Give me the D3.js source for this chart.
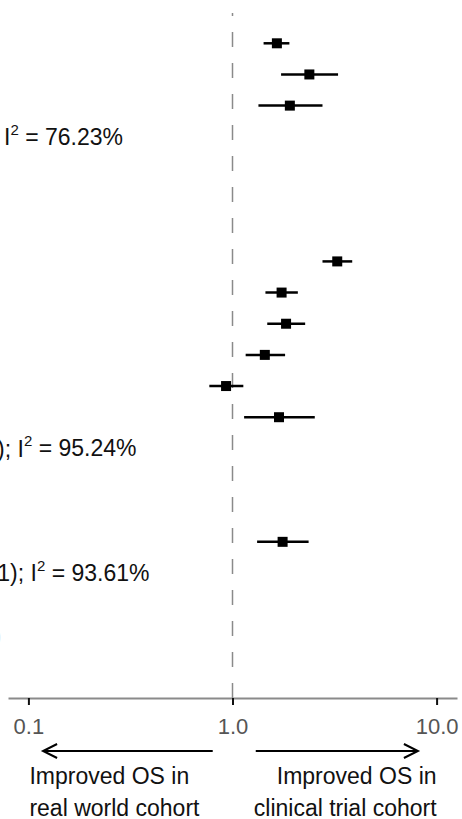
<!DOCTYPE html>
<html>
<head>
<meta charset="utf-8">
<script src="https://cdn.jsdelivr.net/npm/d3@7"></script>
<style>
  body { margin: 0; background: #fff; }
  svg { display: block; font-family: "Liberation Sans", Arial, sans-serif; }
</style>
</head>
<body>
<div id="chart"></div>
<script>
// study rows (row number counted from the top), hazard ratio and 95% CI
const rows  = [1, 2, 3, 8, 9, 10, 11, 12, 13, 17];
const est   = [1.65, 2.38, 1.91, 3.26, 1.74, 1.83, 1.44, 0.93, 1.69, 1.76];
const lower = [1.42, 1.73, 1.34, 2.76, 1.45, 1.48, 1.16, 0.77, 1.14, 1.32];
const upper = [1.90, 3.29, 2.76, 3.86, 2.09, 2.27, 1.81, 1.13, 2.53, 2.36];

// heterogeneity lines (only the tail is visible in the picture)
const hetRows  = [4, 14, 18, 20];
const hetPre   = ["", "); ", "1); ", ")"];
const hetI2    = ["76.23%", "95.24%", "93.61%", null];

const tickValues = [0.1, 1, 10];
const leftLabel  = ["Improved OS in", "real world cohort"];
const rightLabel = ["Improved OS in", "clinical trial cohort"];

const width = 462, height = 819;
const axisY = 698;

const svg = d3.select("#chart").append("svg")
  .attr("width", width)
  .attr("height", height);

const x = d3.scaleLog()
  .domain([Math.pow(10, -1.1), Math.pow(10, 1.1)])
  .range([8, 457]);

const y = d3.scaleLinear()
  .domain([1, 18])
  .range([43.3, 573]);

// reference line at HR = 1, dashes laid from the bottom up
svg.append("line")
  .attr("x1", x(1)).attr("x2", x(1))
  .attr("y1", axisY).attr("y2", 13)
  .attr("stroke", "#8a8a8a")
  .attr("stroke-width", 1.5)
  .attr("stroke-dasharray", "15,16");

// axis
const axis = d3.axisBottom(x)
  .tickValues(tickValues)
  .tickFormat(d3.format(".1f"))
  .tickSizeInner(7)
  .tickSizeOuter(0)
  .tickPadding(13);

const gx = svg.append("g")
  .attr("transform", "translate(0," + axisY + ")")
  .call(axis);
gx.select(".domain").attr("stroke", "#8a8a8a").attr("stroke-width", 2);
gx.selectAll(".tick line").attr("stroke", "#111").attr("stroke-width", 2);
gx.selectAll(".tick text")
  .attr("fill", "#555")
  .attr("font-size", 22)
  .attr("font-family", "Liberation Sans, Arial, sans-serif");

// confidence intervals
const data = rows.map((r, i) => ({ row: r, est: est[i], lo: lower[i], hi: upper[i] }));

svg.selectAll(".ci").data(data).enter()
  .append("line")
  .attr("class", "ci")
  .attr("x1", (d) => x(d.lo))
  .attr("x2", (d) => x(d.hi))
  .attr("y1", (d) => y(d.row))
  .attr("y2", (d) => y(d.row))
  .attr("stroke", "#000")
  .attr("stroke-width", 2.5);

const sq = 10;
svg.selectAll(".pt").data(data).enter()
  .append("rect")
  .attr("class", "pt")
  .attr("x", (d) => x(d.est) - sq / 2)
  .attr("y", (d) => y(d.row) - sq / 2)
  .attr("width", sq)
  .attr("height", sq)
  .attr("fill", "#000");

// heterogeneity text, right edge is what shows
const hetEnd = [123, 136.5, 149.5, 1.5];
hetRows.forEach((r, i) => {
  let t = svg.append("text")
    .attr("x", hetEnd[i])
    .attr("y", y(r))
    .attr("dy", "0.36em")
    .attr("text-anchor", "end")
    .attr("font-size", 23)
    .attr("fill", "#111");
  if (hetI2[i] === null) {
    t.attr("fill", "#bbb").text(hetPre[i]);
    return;
  }
  t.append("tspan").text(hetPre[i] + "I");
  t.append("tspan").attr("font-size", 15).attr("dy", "-0.7em").text("2");
  t.append("tspan").attr("dy", "0.45em").text(" = " + hetI2[i]);
});

// direction arrows
const arrowY = 751;
function arrow(from, to) {
  let x0 = x(from), x1 = x(to);
  let dir = x1 > x0 ? -1 : 1;
  svg.append("line")
    .attr("x1", x0).attr("x2", x1)
    .attr("y1", arrowY).attr("y2", arrowY)
    .attr("stroke", "#000").attr("stroke-width", 2);
  svg.append("polyline")
    .attr("points", (x1 + dir * 14) + "," + (arrowY - 7) + " " + x1 + "," + arrowY + " " + (x1 + dir * 14) + "," + (arrowY + 7))
    .attr("fill", "none")
    .attr("stroke", "#000")
    .attr("stroke-width", 2);
}
arrow(0.80, 0.118);
arrow(1.30, 8.1);

leftLabel.forEach((s, i) => {
  svg.append("text")
    .attr("x", x(0.1) + 1)
    .attr("y", 776 + i * 32)
    .attr("dy", "0.36em")
    .attr("font-size", 23)
    .attr("fill", "#111")
    .text(s);
});
rightLabel.forEach((s, i) => {
  svg.append("text")
    .attr("x", x(10))
    .attr("y", 776 + i * 32)
    .attr("dy", "0.36em")
    .attr("text-anchor", "end")
    .attr("font-size", 23)
    .attr("fill", "#111")
    .text(s);
});
</script>
</body>
</html>
